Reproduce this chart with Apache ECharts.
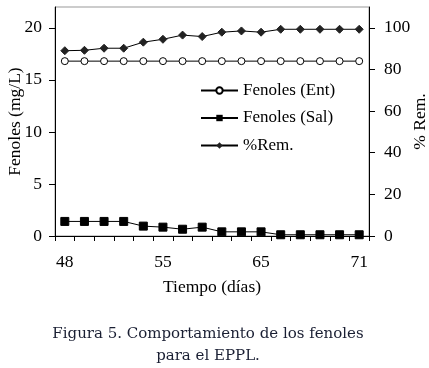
<!DOCTYPE html>
<html>
<head>
<meta charset="utf-8">
<script src="https://cdn.jsdelivr.net/npm/echarts@6/dist/echarts.min.js"></script>
<style>
  html, body { margin: 0; padding: 0; background: #fff; }
  #chart { width: 429px; height: 368px; }
</style>
</head>
<body>
<div id="chart"></div>
<script>
// muestras 1..16; solo 48, 55, 65 y 71 llevan etiqueta
var muestras = ['1', '2', '3', '4', '5', '6', '7', '8', '9', '10', '11', '12', '13', '14', '15', '16'];
var etiquetasDia = ['48', '', '', '', '', '55', '', '', '', '', '65', '', '', '', '', '71'];
// Fenoles (mg/L)
var fenEnt = [16.8, 16.8, 16.8, 16.8, 16.8, 16.8, 16.8, 16.8, 16.8, 16.8, 16.8, 16.8, 16.8, 16.8, 16.8, 16.8];
var fenSal = [1.4, 1.4, 1.4, 1.4, 0.95, 0.85, 0.65, 0.85, 0.4, 0.4, 0.4, 0.12, 0.12, 0.12, 0.12, 0.12];
// % remocion
var remocion = [89.0, 89.2, 90.2, 90.2, 93.1, 94.5, 96.5, 95.8, 97.9, 98.5, 97.9, 99.3, 99.3, 99.3, 99.3, 99.3];

var chart = echarts.init(document.getElementById('chart'));
var fuente = 'Liberation Serif';

var option = {
  animation: false,
  textStyle: { fontFamily: fuente, color: '#000' },
  grid: {
    left: 55,
    right: 60,
    top: 7,
    bottom: 132,
    containLabel: false,
    outerBoundsMode: 'none',
    show: true,
    borderColor: '#999',
    borderWidth: 1
  },
  legend: {
    orient: 'vertical',
    left: 200,
    top: 82,
    itemWidth: 37,
    itemHeight: 8,
    itemGap: 10.5,
    padding: 0,
    textStyle: { fontFamily: fuente, fontSize: 17, color: '#000' },
    data: ['Fenoles (Ent)', 'Fenoles (Sal)', '%Rem.']
  },
  xAxis: {
    type: 'category',
    data: muestras,
    boundaryGap: true,
    name: 'Tiempo (días)',
    nameLocation: 'middle',
    nameGap: 42,
    nameMoveOverlap: false,
    nameTextStyle: { fontFamily: fuente, fontSize: 17.5, color: '#000' },
    axisLine: { show: true, lineStyle: { color: '#000', width: 1 } },
    axisTick: { show: true, interval: 0, length: 5, lineStyle: { color: '#000' } },
    axisLabel: {
      interval: 0, margin: 17, fontSize: 17.5, color: '#000', fontFamily: fuente,
      formatter: function (v, i) { return etiquetasDia[i]; }
    },
    splitLine: { show: false }
  },
  yAxis: [
    {
      type: 'value',
      min: 0,
      max: 22,
      interval: 5,
      name: 'Fenoles (mg/L)',
      nameLocation: 'middle',
      nameRotate: 90,
      nameGap: 31,
      nameMoveOverlap: false,
      nameTextStyle: { fontFamily: fuente, fontSize: 17.5, color: '#000' },
      axisLine: { show: true, lineStyle: { color: '#000', width: 1 } },
      axisTick: { show: true, length: 6, lineStyle: { color: '#000' } },
      axisLabel: { margin: 13, fontSize: 17.5, color: '#000', fontFamily: fuente, showMaxLabel: false },
      splitLine: { show: false }
    },
    {
      type: 'value',
      position: 'right',
      min: 0,
      max: 110,
      interval: 20,
      name: '% Rem.',
      nameLocation: 'middle',
      nameRotate: 90,
      nameGap: 42,
      nameMoveOverlap: false,
      nameTextStyle: { fontFamily: fuente, fontSize: 17.5, color: '#000' },
      axisLine: { show: true, lineStyle: { color: '#000', width: 1 } },
      axisTick: { show: true, length: 6, lineStyle: { color: '#000' } },
      axisLabel: { margin: 15, fontSize: 17.5, color: '#000', fontFamily: fuente, showMaxLabel: false },
      splitLine: { show: false }
    }
  ],
  series: [
    {
      name: 'Fenoles (Ent)',
      type: 'line',
      yAxisIndex: 0,
      data: fenEnt,
      symbol: 'circle',
      symbolSize: 7,
      showAllSymbol: true,
      lineStyle: { color: '#000', width: 1 },
      itemStyle: { color: '#fff', borderColor: '#000', borderWidth: 1 }
    },
    {
      name: 'Fenoles (Sal)',
      type: 'line',
      yAxisIndex: 0,
      data: fenSal,
      symbol: 'rect',
      symbolSize: 8,
      showAllSymbol: true,
      lineStyle: { color: '#000', width: 1 },
      itemStyle: { color: '#000', borderColor: '#000' }
    },
    {
      name: '%Rem.',
      type: 'line',
      yAxisIndex: 1,
      data: remocion,
      symbol: 'diamond',
      symbolSize: 8,
      showAllSymbol: true,
      lineStyle: { color: '#000', width: 1 },
      itemStyle: { color: '#222', borderColor: '#222' }
    }
  ],
  graphic: [
    {
      type: 'text',
      x: 208,
      y: 323,
      style: {
        text: 'Figura 5. Comportamiento de los fenoles\npara el EPPL.',
        font: '15px "DejaVu Serif"',
        fill: '#1a1f33',
        align: 'center',
        lineHeight: 22
      }
    }
  ]
};

chart.setOption(option);
</script>
</body>
</html>
